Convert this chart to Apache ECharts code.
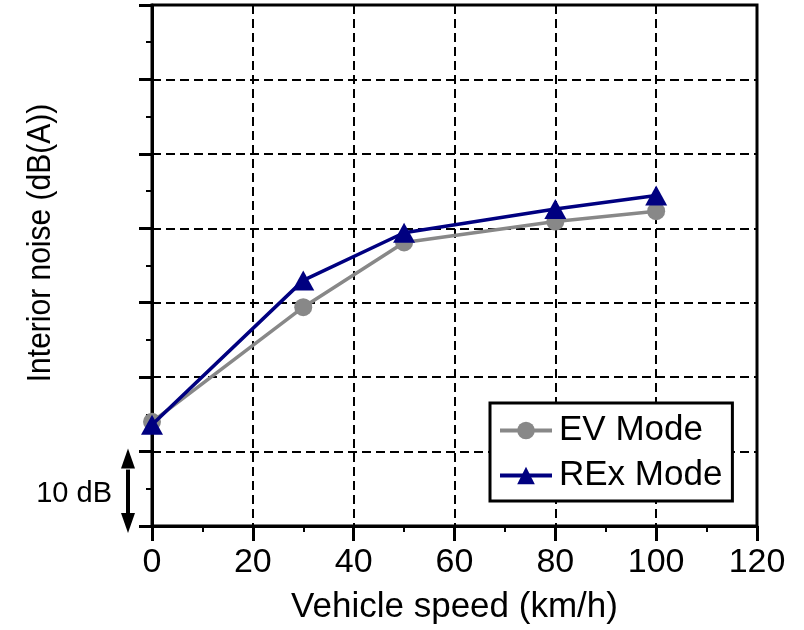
<!DOCTYPE html>
<html>
<head>
<meta charset="utf-8">
<script src="https://cdn.jsdelivr.net/npm/echarts@6/dist/echarts.min.js"></script>
<style>
  html, body { margin: 0; padding: 0; background: #fff; }
  #chart { width: 804px; height: 630px; }
</style>
</head>
<body>
<div id="chart"></div>
<script>
// Vehicle speed (km/h) at each measurement point
const speeds = [0, 30, 50, 80, 100];
// Interior noise, relative scale in dB(A) (10 dB per grid division)
const evMode = [14.0, 29.4, 38.1, 40.9, 42.3];
const rexMode = [13.6, 33.0, 39.4, 42.6, 44.4];
// Axis settings
const xMin = 0, xMax = 120, xStep = 20;
const yMin = 0, yMax = 70, yStep = 10;
const seriesNames = ['EV Mode', 'REx Mode'];

const FONT = 'Liberation Sans, Arial, sans-serif';
const pairs = (xs, ys) => xs.map((x, i) => [x, ys[i]]);

const chart = echarts.init(document.getElementById('chart'), null, { renderer: 'canvas' });

const option = {
  animation: false,
  backgroundColor: '#ffffff',
  grid: {
    left: 152, right: 47, top: 5, bottom: 102,
    show: true, borderColor: '#000', borderWidth: 3, backgroundColor: 'transparent'
  },
  xAxis: {
    type: 'value', min: xMin, max: xMax, interval: xStep,
    name: 'Vehicle speed (km/h)', nameLocation: 'middle', nameGap: 64,
    nameTextStyle: { fontFamily: FONT, fontSize: 35, color: '#000' },
    axisLine: { show: true, onZero: false, lineStyle: { color: '#000', width: 3 } },
    axisTick: { show: true, inside: false, length: 15, lineStyle: { color: '#000', width: 3 } },
    minorTick: { show: true, splitNumber: 2, length: 6, lineStyle: { color: '#000', width: 2 } },
    axisLabel: { fontFamily: FONT, fontSize: 34, color: '#000', margin: 20 },
    splitLine: { show: true, lineStyle: { color: '#000', width: 2, type: [9, 5] } }
  },
  yAxis: {
    type: 'value', min: yMin, max: yMax, interval: yStep,
    axisLine: { show: true, onZero: false, lineStyle: { color: '#000', width: 3 } },
    axisTick: { show: true, inside: false, length: 13, lineStyle: { color: '#000', width: 3 } },
    minorTick: { show: true, splitNumber: 2, length: 6, lineStyle: { color: '#000', width: 2 } },
    axisLabel: { show: false },
    splitLine: { show: true, lineStyle: { color: '#000', width: 2, type: [9, 5] } }
  },
  legend: {
    orient: 'vertical', left: 490, top: 403,
    width: 242,
    padding: [10, 10, 8, 8],
    itemGap: 10,
    itemWidth: 52, itemHeight: 22,
    backgroundColor: '#fff', borderColor: '#000', borderWidth: 3,
    lineStyle: { width: 4 },
    textStyle: { fontFamily: FONT, fontSize: 35, color: '#000', padding: [0, 0, 0, 2] },
    data: seriesNames
  },
  series: [
    {
      name: seriesNames[0], type: 'line', data: pairs(speeds, evMode),
      symbol: 'circle', symbolSize: 18,
      lineStyle: { color: '#888888', width: 3.5 },
      itemStyle: { color: '#888888' },
      z: 3
    },
    {
      name: seriesNames[1], type: 'line', data: pairs(speeds, rexMode),
      symbol: 'triangle', symbolSize: [22, 20],
      lineStyle: { color: '#000080', width: 3.5 },
      itemStyle: { color: '#000080' },
      z: 4
    }
  ]
};

chart.setOption(option);

// Y-axis title and the 10 dB scale arrow, positioned from the axis scale
const y0 = chart.convertToPixel({ yAxisIndex: 0 }, 0);
const y10 = chart.convertToPixel({ yAxisIndex: 0 }, 10);
const arrowX = 128;
const head = 20, halfW = 7;
chart.setOption({
  graphic: [
    {
      type: 'text', x: 41, y: 243, rotation: Math.PI / 2, scaleY: 1.12,
      style: {
        text: 'Interior noise (dB(A))', fontFamily: FONT, fontSize: 30, fill: '#000',
        align: 'center', verticalAlign: 'middle'
      }
    },
    {
      type: 'text', x: 112, y: 494,
      style: {
        text: '10 dB', fontFamily: FONT, fontSize: 29, fill: '#000',
        align: 'right', verticalAlign: 'middle'
      }
    },
    {
      type: 'line',
      shape: { x1: arrowX, y1: y10 + head - 2, x2: arrowX, y2: y0 + 7 - head + 2 },
      style: { stroke: '#000', lineWidth: 4 }
    },
    {
      type: 'polygon',
      shape: { points: [[arrowX, y10 - 3], [arrowX - halfW, y10 - 3 + head], [arrowX + halfW, y10 - 3 + head]] },
      style: { fill: '#000' }
    },
    {
      type: 'polygon',
      shape: { points: [[arrowX, y0 + 7], [arrowX - halfW, y0 + 7 - head], [arrowX + halfW, y0 + 7 - head]] },
      style: { fill: '#000' }
    }
  ]
});
</script>
</body>
</html>
